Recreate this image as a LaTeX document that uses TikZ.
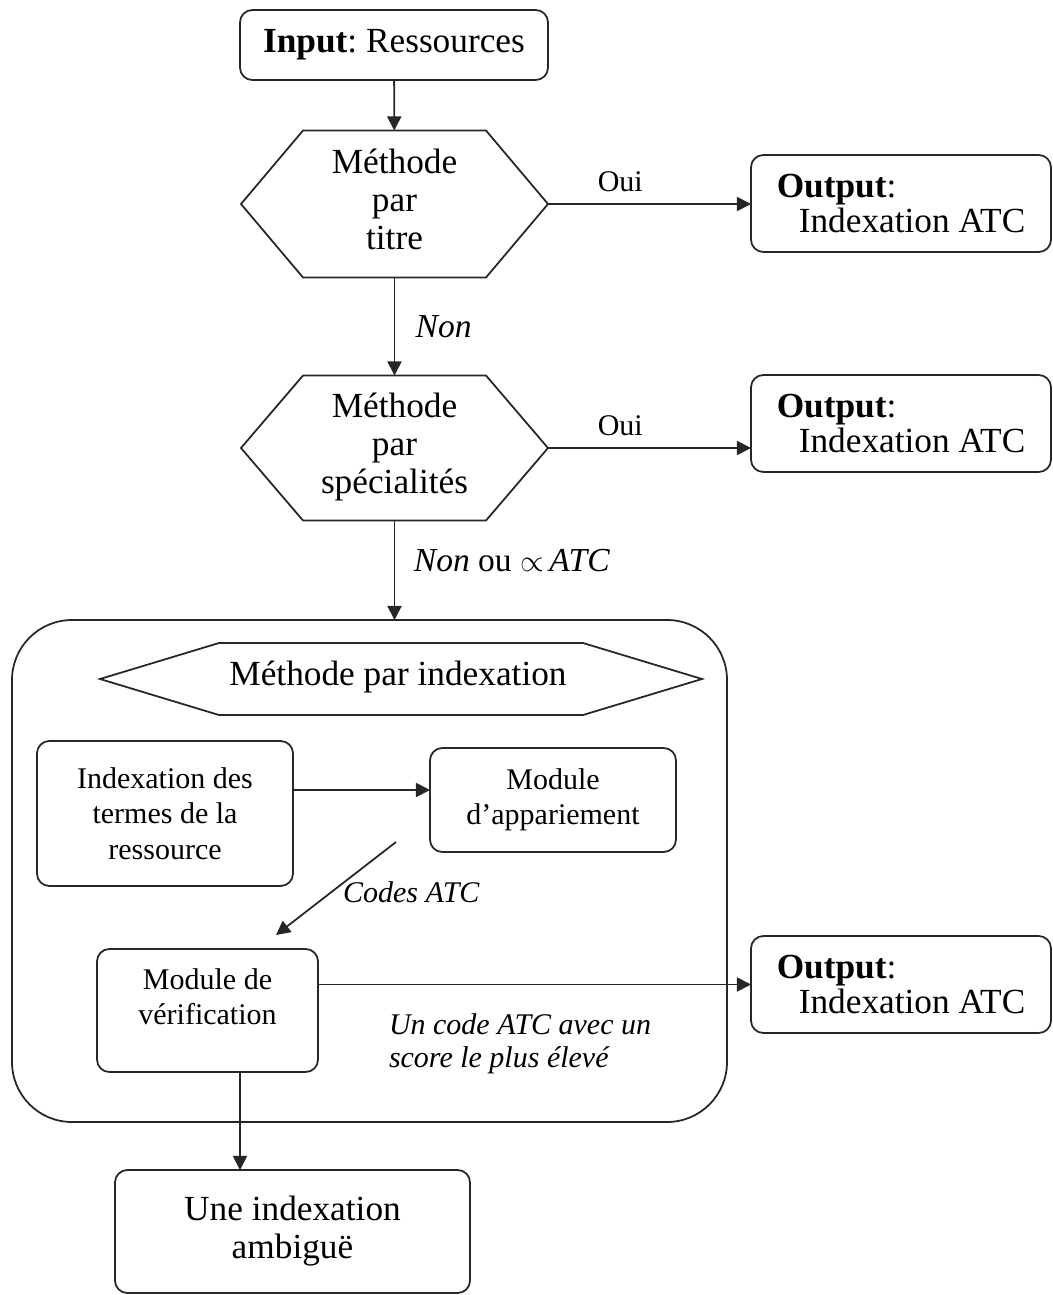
\documentclass[tikz,border=0pt]{standalone}
\usepackage{fontspec}
\setmainfont{Liberation Serif}
\usetikzlibrary{arrows.meta,calc}
\frenchspacing
\newcommand\pxu{0.5667pt}
% hexagon outline around a node: #1 node name, #2 horizontal inset of the flat top
\newcommand\hexline[2]{\draw[line] ($(#1.north west)+(#2,0)$) -- ($(#1.north east)-(#2,0)$) -- (#1.east) -- ($(#1.south east)-(#2,0)$) -- ($(#1.south west)+(#2,0)$) -- (#1.west) -- cycle;}
\begin{document}
\begin{tikzpicture}[x=0.5667pt,y=-0.5667pt,
  every node/.style={outer sep=0pt},
  line/.style={line width=1pt, draw=black!85},
  arr/.style={line, -{Triangle[length=8pt,width=8pt]}},
  box/.style={line, rounded corners=7pt, inner sep=0pt, align=center},
  big/.style={font=\fontsize{20}{21.5}\selectfont},
  small/.style={font=\fontsize{17}{20}\selectfont},
  smallit/.style={font=\fontsize{17}{19}\selectfont\itshape},
  lab/.style={inner sep=0pt},
  outbox/.style={box, font=\fontsize{20}{20}\selectfont, minimum width=300*\pxu, minimum height=97*\pxu,
    align=left},
  hexnode/.style={inner sep=0pt},
]
\useasboundingbox (0,0) rectangle (1052,1295);

% input
\node[box, big, minimum width=308*\pxu, minimum height=70*\pxu] (in) at (394,45) {\textbf{Input}: Ressources};

% first decision
\node[hexnode, minimum width=307*\pxu, minimum height=147*\pxu] (h1) at (394.5,204) {};
\hexline{h1}{62}
\node[big, lab, align=center] (h1t) at (394.5,199) {Méthode\\par\\titre};
\node[outbox] (o1) at (901,203.5) {\textbf{Output}:\\\hspace*{12.5pt}Indexation ATC};
\draw[arr] (in) -- (h1);
\draw[arr] (h1.east) -- (h1.east -| o1.west)
  node[pos=0.356, anchor=south, inner sep=0pt, yshift=6.8pt, small] {Oui};

% second decision
\node[hexnode, minimum width=307*\pxu, minimum height=145*\pxu] (h2) at (394.5,448) {};
\hexline{h2}{62}
\node[big, lab, align=center] (h2t) at (394.5,447) {Méthode\\par\\spécialités};
\node[outbox] (o2) at (901,423.5) {\textbf{Output}:\\\hspace*{12.5pt}Indexation ATC};
\draw[arr] (h1.south) -- (h2.north)
  node[midway, anchor=west, lab, xshift=12pt, font=\fontsize{19}{20}\selectfont\itshape] {Non};
\draw[arr] (h2.east) -- (h2.east -| o2.west)
  node[pos=0.356, anchor=south, inner sep=0pt, yshift=6.8pt, small] {Oui};

% indexation method
\node[box, rounded corners=34pt, minimum width=715*\pxu, minimum height=502*\pxu] (ind) at (369.5,871) {};
\draw[arr] (h2.south) -- (h2.south |- ind.north)
  node[pos=0.4, anchor=west, lab, xshift=11pt, font=\fontsize{19}{20}\selectfont]
  {\textit{Non} ou $\propto$\,\textit{ATC}};

\node[hexnode, minimum width=602*\pxu, minimum height=72*\pxu] (h3) at (401,679) {};
\hexline{h3}{119}
\node[big, lab] (h3t) at (398,677) {Méthode par indexation};

\node[box, small, minimum width=256*\pxu, minimum height=145*\pxu] (idx) at (165,813.5) {Indexation des\\termes de la\\ressource};
\node[box, small, minimum width=246*\pxu, minimum height=104*\pxu] (app) at (553,800) {Module\\d’appariement};
\coordinate (r1) at (0,790);
\draw[arr] (idx.east |- r1) -- (app.west |- r1);

\coordinate (cs) at (396,842);
\coordinate (ce) at (276,935);
\draw[arr] (cs) -- (ce) node[midway, anchor=west, lab, xshift=4pt, yshift=-2pt, smallit] {Codes ATC};

\node[box, minimum width=221*\pxu, minimum height=123*\pxu] (ver) at (207.5,1010.5) {};
\node[small, align=center, lab] (vert) at (207.5,997) {Module de\\vérification};

\node[outbox] (o3) at (901,984.5) {\textbf{Output}:\\\hspace*{12.5pt}Indexation ATC};
\draw[arr] (ver.east |- o3.west) -- (o3.west);
\node[smallit, align=left, anchor=west, lab] (note) at (389,1044) {Un code ATC avec un\\score le plus élevé};

% ambiguous result
\node[box, big, minimum width=355*\pxu, minimum height=123*\pxu] (amb) at (292.5,1231.5) {Une indexation\\ambiguë};
\coordinate (dx) at (240,0);
\draw[arr] (ver.south -| dx) -- (amb.north -| dx);
\end{tikzpicture}
\end{document}
